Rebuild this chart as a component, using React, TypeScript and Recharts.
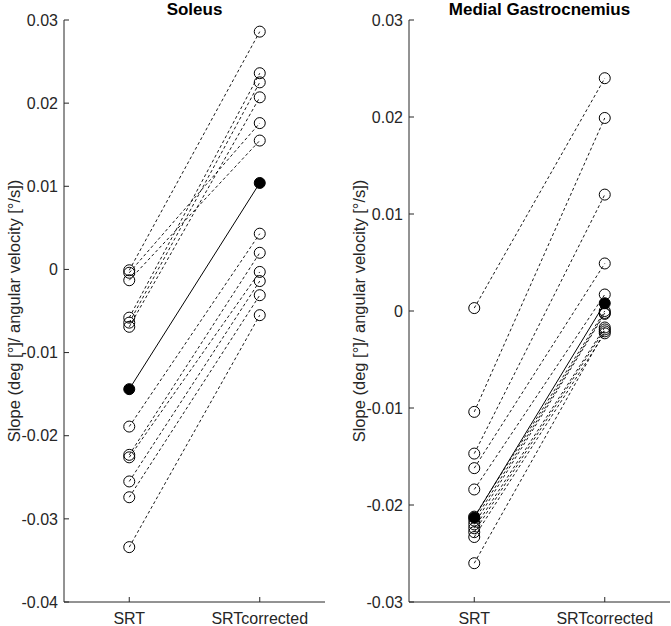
import { LineChart, Line, XAxis, YAxis } from 'recharts';

const conditions = ['SRT', 'SRTcorrected'];
const yLabel = 'Slope (deg [°]/ angular velocity [°/s])';

// Soleus, one value per subject (same order in both arrays)
const soleusSRT = [-0.0001, -0.0004, -0.0013, -0.0058, -0.0064, -0.0069, -0.0189, -0.0223, -0.0226, -0.0255, -0.0274, -0.0334];
const soleusCorrected = [0.0286, 0.0176, 0.0155, 0.0236, 0.0225, 0.0207, 0.0043, 0.002, -0.0003, -0.0014, -0.0031, -0.0055];
const soleusMean = [-0.0144, 0.0104];
const soleusTicks = [0.03, 0.02, 0.01, 0, -0.01, -0.02, -0.03, -0.04];

// Medial gastrocnemius
const gastroSRT = [0.0003, -0.0104, -0.0147, -0.0162, -0.0184, -0.0212, -0.0216, -0.022, -0.0224, -0.0228, -0.0233, -0.026];
const gastroCorrected = [0.024, 0.0199, 0.012, 0.0049, 0.0017, 0.0, -0.0002, -0.0003, -0.0017, -0.0019, -0.0023, -0.0021];
const gastroMean = [-0.0213, 0.0008];
const gastroTicks = [0.03, 0.02, 0.01, 0, -0.01, -0.02, -0.03];

const font = '"Liberation Sans", Arial, sans-serif';
const axisColor = '#262626';

const pair = (a: number, b: number) => [
  { x: 1, y: a },
  { x: 2, y: b },
];

const fmt = (v: number) => (v === 0 ? '0' : v.toFixed(2));

interface PanelProps {
  title: string;
  srt: number[];
  corrected: number[];
  mean: number[];
  ticks: number[];
  width: number;
  right: number;
}

function Panel({ title, srt, corrected, mean, ticks, width, right }: PanelProps) {
  const domain = [ticks[ticks.length - 1], ticks[0]];
  return (
    <div style={{ position: 'relative', width, height: 626 }}>
      <div
        style={{
          position: 'absolute',
          top: 0,
          left: 64,
          width: width - 64 - right,
          textAlign: 'center',
          fontFamily: font,
          fontWeight: 'bold',
          fontSize: 17,
          lineHeight: '20px',
          color: '#000',
        }}
      >
        {title}
      </div>
      <LineChart width={width} height={626} margin={{ top: 20, right, bottom: 0, left: 0 }}>
        <XAxis
          dataKey="x"
          type="number"
          domain={[0.5, 2.5]}
          ticks={[1, 2]}
          tickFormatter={(v) => conditions[v - 1]}
          height={24}
          tickSize={-5}
          tickMargin={16}
          stroke={axisColor}
          tick={{ fill: axisColor, fontSize: 16, fontFamily: font }}
          allowDuplicatedCategory={false}
        />
        <YAxis
          type="number"
          domain={domain}
          ticks={ticks}
          interval={0}
          width={64}
          tickSize={-5}
          tickMargin={11}
          tickFormatter={fmt}
          stroke={axisColor}
          tick={{ fill: axisColor, fontSize: 16, fontFamily: font }}
          label={{
            content: (props: any) => {
              const vb = props.viewBox || { x: 0, y: 20, height: 582 };
              const cx = vb.x + 14;
              const cy = vb.y + vb.height / 2;
              return (
                <text
                  x={cx}
                  y={cy}
                  transform={`rotate(-90 ${cx} ${cy})`}
                  textAnchor="middle"
                  dominantBaseline="central"
                  fill={axisColor}
                  fontSize={16.5}
                  fontFamily={font}
                >
                  {yLabel}
                </text>
              );
            },
          }}
        />
        {srt.map((v, i) => (
          <Line
            key={i}
            data={pair(v, corrected[i])}
            dataKey="y"
            stroke="#000"
            strokeWidth={0.9}
            strokeDasharray="3 2.5"
            dot={{ r: 5.5, stroke: '#000', strokeWidth: 1, fill: 'none', strokeDasharray: '0' }}
            activeDot={false}
            isAnimationActive={false}
          />
        ))}
        <Line
          data={pair(mean[0], mean[1])}
          dataKey="y"
          stroke="#000"
          strokeWidth={1}
          dot={{ r: 5.5, stroke: '#000', strokeWidth: 1, fill: '#000' }}
          activeDot={false}
          isAnimationActive={false}
        />
      </LineChart>
    </div>
  );
}

export default function App() {
  return (
    <div style={{ position: 'absolute', top: 0, left: 0, width: 671, height: 626, display: 'flex', background: '#fff' }}>
      <Panel title="Soleus" srt={soleusSRT} corrected={soleusCorrected} mean={soleusMean} ticks={soleusTicks} width={340} right={15} />
      <div style={{ width: 5 }} />
      <Panel title="Medial Gastrocnemius" srt={gastroSRT} corrected={gastroCorrected} mean={gastroMean} ticks={gastroTicks} width={326} right={1} />
    </div>
  );
}
